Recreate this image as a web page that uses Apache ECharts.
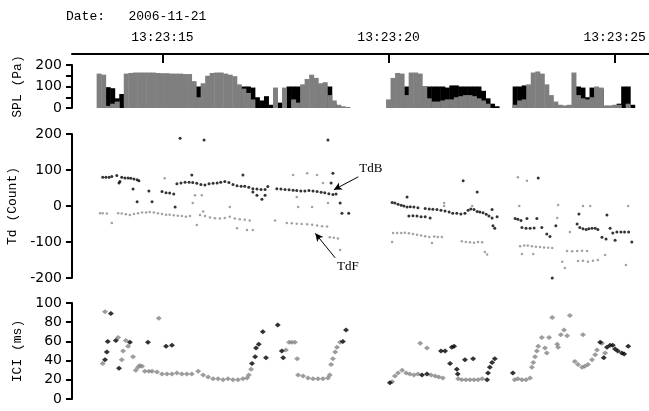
<!DOCTYPE html>
<html>
<head>
<meta charset="utf-8">
<script src="https://cdn.jsdelivr.net/npm/echarts@6/dist/echarts.min.js"></script>
<style>
  html, body { margin: 0; padding: 0; background: #fff; }
  #chart { width: 649px; height: 411px; }
</style>
</head>
<body>
<div id="chart"></div>
<script>
// time in seconds after 13:23:00
const tMin = 13.0
const tMax = 25.76
const timeTicks = [15, 20, 25]
const dateText = "Date:   2006-11-21"

// SPL bars, one bin every 0.1 s (null = nothing drawn)
const splTime = [
  13.6, 13.7, 13.8, 13.9, 14.0, 14.1, 14.2, 14.3, 14.4, 14.5, 14.6, 14.7, 14.8, 14.9,
  15.0, 15.1, 15.2, 15.3, 15.4, 15.5, 15.6, 15.7, 15.8, 15.9, 16.0, 16.1, 16.2, 16.3,
  16.4, 16.5, 16.6, 16.7, 16.8, 16.9, 17.0, 17.1, 17.2, 17.3, 17.4, 17.5, 17.6, 17.7,
  17.8, 17.9, 18.0, 18.1, 18.2, 18.3, 18.4, 18.5, 18.6, 18.7, 18.8, 18.9, 19.0, 19.1,
  20.0, 20.1, 20.2, 20.3, 20.4, 20.5, 20.6, 20.7, 20.8, 20.9, 21.0, 21.1, 21.2, 21.3,
  21.4, 21.5, 21.6, 21.7, 21.8, 21.9, 22.0, 22.1, 22.2, 22.3, 22.4,
  22.8, 22.9, 23.0, 23.1, 23.2, 23.3, 23.4, 23.5, 23.6, 23.7, 23.8, 23.9, 24.0, 24.1,
  24.2, 24.3, 24.4, 24.5, 24.6, 24.7, 24.8, 24.9, 25.0, 25.1, 25.2, 25.3, 25.4
]
const splGray = [
  160, 155, 10, 20, 30, null, 160, 163, 165, 165, 165, 165, 165, 163,
  162, 162, 160, 160, 160, 158, 158, 125, 50, 115, 150, 163, 165, 165,
  160, 155, 148, 110, 90, 70, 40, null, null, null, null, 95, null, 95,
  null, 40, 25, 110, 135, 155, 140, 115, 120, 60, 35, 15, 8, 5,
  40, 140, 163, 160, 60, 165, 165, 160, 100, 45, 30, 30, 35, 40,
  40, 50, 55, 60, 60, 55, 45, 35, 20, null, null,
  15, 35, 40, 110, 165, 170, 160, 110, 60, 30, 15, 12, 15, 165,
  60, 45, 40, 50, 100, 95, 12, 12, 15, 15, null, 20, null
]
const splDark = [
  null, null, 97, 92, 45, 65, null, null, null, null, null, null, null, null,
  null, null, null, null, null, null, null, 100, 100, 100, null, null, null, null,
  null, null, null, 100, 100, 100, 95, 50, 35, 55, 15, null, 25, 20,
  100, 100, 100, 100, null, null, null, 100, 100, 100, 20, null, null, null,
  null, null, null, null, 100, null, null, null, 100, 100, 100, 100, 100, 95,
  105, 105, 100, 100, 100, 100, 100, 80, 45, 20, 8,
  100, 100, 105, 100, null, null, null, null, null, null, null, null, null, null,
  100, 95, 50, 95, 90, 90, null, null, null, 20, 100, 100, 15
]

// Td (Count): [time, value]
const tdB = [
  [13.68, 80], [13.75, 80], [13.82, 80], [13.88, 82], [13.99, 85], [14.04, 64], [14.06, 68],
  [14.10, 80], [14.17, 78], [14.24, 78], [14.30, 77], [14.37, 75], [14.44, 73], [14.48, 70],
  [14.35, 47], [14.44, 12], [14.70, 42], [14.77, 12], [14.99, 40], [15.08, 37], [15.16, 36],
  [15.25, 33], [15.28, -3], [15.39, 188], [15.92, 183],
  [15.32, 62], [15.41, 64], [15.50, 66], [15.59, 66], [15.67, 65], [15.76, 63], [15.85, 60],
  [15.94, 58], [16.03, 62], [16.12, 63], [16.21, 64], [16.29, 66], [16.38, 68], [16.47, 65],
  [16.56, 60], [16.65, 56], [16.74, 55], [16.82, 55], [16.91, 52], [17.00, 48], [17.09, 47],
  [17.18, 46], [17.27, 46], [15.65, 86], [16.78, 86], [17.00, 39], [17.09, 30], [17.20, 19],
  [17.27, 30], [17.33, 54],
  [17.53, 48], [17.62, 47], [17.71, 46], [17.80, 45], [17.89, 44], [17.97, 43], [18.06, 42],
  [18.15, 42], [18.24, 43], [18.33, 42], [18.42, 40], [18.51, 38], [18.59, 37], [18.68, 34],
  [18.77, 32], [18.84, 33], [18.66, 183], [18.77, 91], [18.73, 64], [18.93, 8], [18.97, -20],
  [19.12, -20],
  [20.08, 10], [20.14, 8], [20.21, 5], [20.28, 2], [20.34, 0], [20.41, -3], [20.48, -2],
  [20.56, -3], [20.65, -5], [20.41, 25], [20.45, -28], [20.54, -27], [20.63, -28], [20.72, -30],
  [20.81, -30], [20.92, -33], [20.81, -7], [20.90, -8], [20.98, -9], [21.07, -10], [21.16, -12],
  [21.25, -14], [21.34, -17], [21.42, -20], [21.51, -20], [21.60, -22], [21.69, -20], [21.76, -12],
  [21.82, -8], [21.89, -10], [21.96, -15], [22.02, -17], [22.09, -19], [22.16, -23], [22.22, -28],
  [22.29, -33], [22.29, -10], [22.31, -55], [22.35, -62], [22.40, -30], [21.65, 70], [21.96, 39],
  [22.80, -35], [22.86, -37], [22.93, -40], [22.95, -60], [23.04, -62], [23.13, -62], [23.22, -61],
  [23.06, -35], [23.28, -35], [23.39, -60], [23.50, -78], [23.57, -85], [23.70, -55], [23.31, 78],
  [23.62, -200],
  [24.17, -50], [24.23, -60], [24.30, -63], [24.37, -65], [24.43, -63], [24.50, -62], [24.57, -62],
  [24.63, -65], [24.72, -87], [24.81, -92], [24.90, -62], [24.96, -75], [25.01, -95], [25.05, -72],
  [25.14, -72], [25.22, -72], [25.31, -72], [25.38, -100], [24.83, -25], [24.21, -22]
]
const tdF = [
  [13.62, -20], [13.68, -20], [13.77, -21], [13.88, -47], [14.02, -20], [14.10, -21], [14.19, -23],
  [14.28, -25], [14.37, -22], [14.46, -20], [14.55, -18], [14.64, -18], [14.72, -17], [14.81, -18],
  [14.90, -20], [14.99, -22], [15.08, -24], [15.16, -24], [15.25, -26], [15.34, -27], [15.43, -28],
  [15.52, -30], [15.61, -28], [15.76, -53], [15.83, -25], [15.94, -28], [16.05, -32], [16.16, -34],
  [16.27, -35], [16.38, -33], [16.49, -30], [16.60, -35], [16.71, -37], [16.82, -38], [16.93, -40],
  [16.65, -62], [16.87, -67], [17.00, -67], [15.05, 77], [15.67, 8], [15.72, 30], [15.87, 30],
  [15.90, -15], [16.49, -3],
  [17.49, -40], [17.75, -47], [17.86, -48], [17.97, -49], [18.08, -50], [18.20, -51], [18.31, -52],
  [18.42, -54], [18.53, -56], [18.64, -57], [18.70, -87], [18.79, -88], [18.88, -90], [18.93, -122],
  [17.89, 86], [18.20, 91], [18.42, 86], [17.97, 25], [18.00, -3], [18.31, -3], [18.55, 64],
  [18.66, 8],
  [20.08, -100], [20.10, -75], [20.19, -75], [20.28, -75], [20.36, -74], [20.45, -76], [20.54, -78],
  [20.63, -80], [20.72, -82], [20.81, -84], [20.90, -86], [20.96, -103], [21.01, -85], [21.09, -86],
  [21.18, -86], [21.23, 8], [21.23, 0], [21.62, -98], [21.71, -100], [21.80, -101], [21.89, -102],
  [21.98, -100], [22.07, -101], [22.13, -128], [22.18, -135], [21.85, 0],
  [22.86, 80], [23.06, 70], [22.89, 0], [22.91, -112], [23.00, -110], [23.08, -110], [23.17, -112],
  [23.26, -113], [23.35, -114], [23.44, -115], [23.53, -116], [23.62, -117], [22.95, -133],
  [23.20, -133], [23.73, -33], [23.75, 3], [23.84, -155], [23.90, -172],
  [23.95, -125], [24.06, -126], [24.17, -125], [24.28, -124], [24.39, -125], [24.19, -153],
  [24.30, -152], [24.41, -155], [24.52, -152], [24.63, -150], [24.79, -136], [24.30, 0],
  [24.46, 0], [25.25, -164], [25.30, 0], [24.01, -72]
]

// ICI (ms): [time, value]
const iciDark = [
  [13.86, 89], [13.73, 41], [13.77, 49], [13.79, 60], [13.97, 61], [14.04, 32], [14.28, 59],
  [14.68, 59], [15.08, 55], [15.21, 56], [16.98, 37], [17.05, 44], [17.07, 53], [17.13, 57],
  [17.22, 70], [17.29, 43], [17.55, 77], [17.64, 50], [17.67, 43], [18.99, 60], [19.06, 72],
  [20.03, 17], [20.74, 25], [20.85, 26], [21.16, 50], [21.25, 50], [21.40, 54], [21.45, 55],
  [21.36, 37], [21.51, 31], [21.53, 26], [21.69, 41], [21.87, 42], [22.18, 20], [22.20, 27],
  [22.24, 33], [22.29, 38], [22.35, 42], [22.75, 27],
  [24.68, 59], [24.76, 43], [24.83, 54], [24.90, 56], [24.96, 56], [25.01, 52], [25.07, 50],
  [25.16, 48], [25.21, 47], [25.30, 55]
]
const iciLight = [
  [13.73, 91], [13.68, 37], [14.02, 64], [14.10, 41], [14.13, 50], [14.19, 61], [14.24, 55],
  [14.35, 44], [14.41, 30], [14.46, 33], [14.50, 35], [14.55, 34], [14.61, 29], [14.70, 29],
  [14.77, 29], [14.88, 28], [14.92, 84], [14.99, 26], [15.10, 26], [15.21, 26], [15.32, 27],
  [15.43, 26], [15.54, 26], [15.65, 26], [15.79, 29], [15.90, 25], [16.01, 23], [16.12, 21],
  [16.23, 21], [16.34, 20], [16.45, 21], [16.56, 20], [16.67, 20], [16.78, 21], [16.87, 22],
  [16.91, 25], [16.96, 31],
  [17.73, 51], [17.80, 59], [17.86, 59], [17.93, 59], [17.98, 42], [18.00, 25], [18.11, 24],
  [18.22, 22], [18.33, 21], [18.44, 21], [18.55, 21], [18.66, 22], [18.70, 25], [18.73, 36],
  [18.77, 42], [18.82, 49], [18.86, 54], [18.93, 59],
  [20.08, 18], [20.14, 24], [20.21, 27], [20.30, 30], [20.39, 27], [20.47, 26], [20.56, 25],
  [20.65, 26], [20.70, 58], [20.85, 53], [20.94, 25], [21.03, 24], [21.11, 23], [21.20, 22],
  [21.54, 21], [21.62, 20], [21.71, 20], [21.80, 20], [21.89, 20], [21.98, 20], [22.07, 21],
  [22.79, 20], [22.86, 21], [22.95, 20], [23.04, 20], [23.13, 22], [23.17, 33], [23.20, 38],
  [23.24, 44], [23.28, 50], [23.31, 55], [23.39, 64], [23.46, 53], [23.50, 48], [23.55, 64],
  [23.62, 85], [23.73, 57], [23.75, 54], [23.81, 67], [23.88, 72], [23.95, 66], [24.01, 87],
  [24.30, 67],
  [24.12, 39], [24.19, 36], [24.28, 33], [24.34, 34], [24.41, 36], [24.50, 41], [24.57, 46],
  [24.61, 51], [24.72, 58], [24.79, 48]
]

// annotation arrows and labels, in data units of the Td panel
const tdBArrow = [[19.33, 81], [18.79, 45]]
const tdFArrow = [[18.82, -144], [18.38, -76]]
const tdLabels = [
  { name: "TdB", coord: [19.61, 103] },
  { name: "TdF", coord: [19.10, -169] },
]

const monoFont = "Liberation Mono"
const numFont = "DejaVu Sans"

const chart = echarts.init(document.getElementById("chart"))

function yAxisBase(gridIndex, name) {
  return {
    gridIndex,
    type: "value",
    name,
    nameLocation: "middle",
    nameGap: 48,
    nameTextStyle: { fontFamily: monoFont, fontSize: 13, color: "#000" },
    axisLine: { show: true, lineStyle: { color: "#000", width: 2 } },
    axisTick: { show: true, length: 6, lineStyle: { color: "#000", width: 2 } },
    axisLabel: { fontFamily: numFont, fontSize: 14, color: "#000", margin: 10 },
    splitLine: { show: false },
  }
}

function hiddenX(gridIndex) {
  return { gridIndex, type: "value", min: tMin, max: tMax, show: false }
}

chart.setOption({
  animation: false,
  backgroundColor: "#fff",
  title: {
    text: dateText,
    left: 61,
    top: 5,
    textStyle: { fontFamily: monoFont, fontSize: 13, fontWeight: "normal", color: "#000" },
  },
  grid: [
    { left: 72, right: 0, top: 65, height: 43, outerBoundsMode: "none" },
    { left: 72, right: 0, top: 134, height: 144, outerBoundsMode: "none" },
    { left: 72, right: 0, top: 303, height: 96, outerBoundsMode: "none" },
  ],
  xAxis: [
    {
      gridIndex: 0,
      type: "value",
      position: "top",
      offset: 11,
      min: tMin,
      max: tMax,
      axisLine: { onZero: false, lineStyle: { color: "#000", width: 2 } },
      axisTick: { inside: true, length: 9, customValues: timeTicks, lineStyle: { color: "#000", width: 2 } },
      axisLabel: {
        customValues: timeTicks,
        formatter: (v) => "13:23:" + v,
        fontFamily: monoFont,
        fontSize: 13,
        color: "#000",
        margin: 10,
      },
      splitLine: { show: false },
    },
    hiddenX(1),
    hiddenX(2),
  ],
  yAxis: [
    Object.assign(yAxisBase(0, "SPL (Pa)"), {
      min: 0, max: 200, interval: 50,
      axisLabel: {
        fontFamily: numFont, fontSize: 14, color: "#000", margin: 10,
        formatter: (v) => (v % 100 === 0 ? String(v) : ""),
      },
    }),
    Object.assign(yAxisBase(1, "Td (Count)"), { min: -200, max: 200, interval: 100 }),
    Object.assign(yAxisBase(2, "ICI (ms)"), { min: 0, max: 100, interval: 20 }),
  ],
  series: [
    {
      name: "SPL dark",
      type: "bar",
      xAxisIndex: 0,
      yAxisIndex: 0,
      barWidth: 5,
      barGap: "-100%",
      itemStyle: { color: "#000" },
      data: splTime.map((t, i) => [t, splDark[i]]),
    },
    {
      name: "SPL gray",
      type: "bar",
      xAxisIndex: 0,
      yAxisIndex: 0,
      barWidth: 5,
      barGap: "-100%",
      itemStyle: { color: "#7f7f7f" },
      data: splTime.map((t, i) => [t, splGray[i]]),
    },
    {
      name: "TdF",
      type: "scatter",
      xAxisIndex: 1,
      yAxisIndex: 1,
      symbolSize: 2.5,
      itemStyle: { color: "#8a8a8a" },
      data: tdF,
    },
    {
      name: "TdB",
      type: "scatter",
      xAxisIndex: 1,
      yAxisIndex: 1,
      symbolSize: 3,
      itemStyle: { color: "#000" },
      data: tdB,
      markLine: {
        silent: true,
        symbol: ["none", "arrow"],
        symbolSize: [6, 8],
        lineStyle: { color: "#000", width: 1, type: "solid" },
        label: { show: false },
        data: [
          [{ coord: tdBArrow[0] }, { coord: tdBArrow[1] }],
          [{ coord: tdFArrow[0] }, { coord: tdFArrow[1] }],
        ],
      },
      markPoint: {
        silent: true,
        symbol: "circle",
        symbolSize: 0,
        label: {
          show: true,
          position: "inside",
          formatter: "{b}",
          fontFamily: "Liberation Serif",
          fontSize: 13,
          color: "#000",
        },
        data: tdLabels,
      },
    },
    {
      name: "ICI light",
      type: "scatter",
      xAxisIndex: 2,
      yAxisIndex: 2,
      symbol: "diamond",
      symbolSize: [6, 5],
      itemStyle: { color: "#858585" },
      data: iciLight,
    },
    {
      name: "ICI dark",
      type: "scatter",
      xAxisIndex: 2,
      yAxisIndex: 2,
      symbol: "diamond",
      symbolSize: [6, 5],
      itemStyle: { color: "#000" },
      data: iciDark,
    },
  ],
})
</script>
</body>
</html>
